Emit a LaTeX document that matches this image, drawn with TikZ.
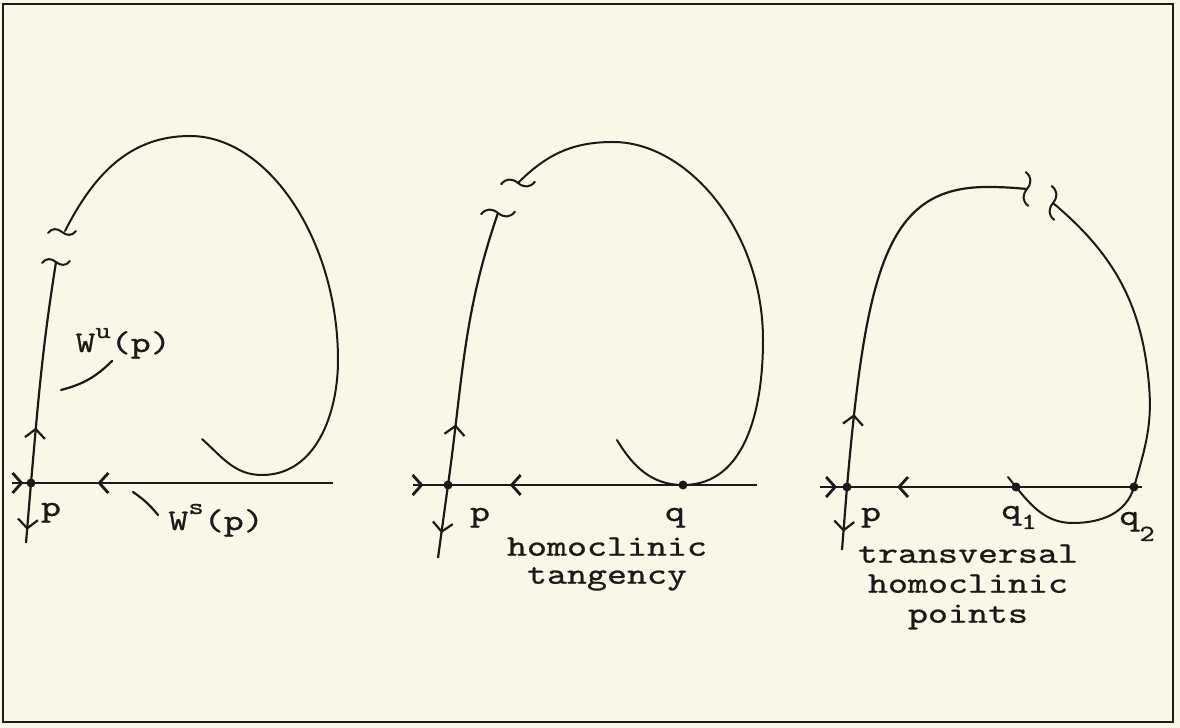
\documentclass[tikz,border=0pt]{standalone}
\definecolor{Paper}{RGB}{248,247,232}
\definecolor{Ink}{RGB}{28,26,24}
\usepackage{fontspec}
\setmonofont[FakeStretch=1.27,FakeBold=0.8]{lmmono10-regular.otf}
\usetikzlibrary{arrows.meta,decorations.markings}
\newcommand{\shiftidx}[2]{\raisebox{#1}{\fontsize{11.5}{11.5}\selectfont #2}}

\begin{document}
\begin{tikzpicture}[x=0.5pt,y=0.5pt,
  manif/.style={draw=Ink,line width=1pt,line cap=round},
  ws/.style={draw=Ink,line width=1.4pt},
  wu/.style={draw=Ink,line width=1.1pt},
  lead/.style={draw=Ink,line width=1.1pt,line cap=round},
  flow/.style={postaction={decorate},decoration={markings,
    mark=at position #1 with {\arrow{Straight Barb[length=4.5pt,width=10pt]}}}},
  dot/.style={circle,fill=Ink,inner sep=0pt,minimum size=4.5pt},
  lbl/.style={inner sep=0pt,text=Ink,font=\ttfamily\fontsize{15}{14}\selectfont},
  brk/.pic={\draw[manif] (-14,-1) .. controls (-10,4) and (-5,4) .. (0,0)
    .. controls (5,-4) and (10,-4) .. (14,1);}]
\fill[Paper] (0,0) rectangle (1180,728);
\useasboundingbox (0,0) rectangle (1180,728);
\draw[Ink,line width=1.2pt] (3,6) rectangle (1173,724);

% left panel: saddle p and its manifolds
\coordinate (wsL1) at (12,245);
\coordinate (wsR1) at (333,245);
\coordinate (wuB1) at (26,185);
\coordinate (wuT1) at (56,466);
\coordinate (lpS1) at (65,497);
\coordinate (lpE1) at (202,289);
\node[dot] (p1) at (31,245) {};
\draw[ws,flow=0.6] (wsL1) -- (p1.center);
\draw[ws,flow=0.78] (wsR1) -- (p1.center);
\draw[wu,flow=0.78] (p1.center) -- (wuB1);
\draw[wu,flow=0.25] (p1.center) to[out=85,in=-99] (wuT1);
\pic at (wuT1) {brk};
\pic at (62,496) {brk};
\draw[manif] (lpS1) to[out=63,in=180] (190,592)
  to[out=0,in=90,out distance=39pt,in distance=60pt] (338,368)
  to[out=-90,in=0] (262,253) to[out=180,in=-42] (lpE1);
\node[lbl,anchor=base] (lp1) at (51,212) {p};
\node[lbl,anchor=base west] (lwu) at (75,376) {W\shiftidx{7pt}{u}(p)};
\node[lbl,anchor=base west] (lws) at (168,198) {W\shiftidx{8pt}{s}(p)};
\coordinate (wuA) at (61,338);
\coordinate (wuZ) at (112,367);
\draw[lead] (wuA) to[bend right=15] (wuZ);
\coordinate (wsA) at (133,236);
\coordinate (wsZ) at (158,213);
\draw[lead] (wsA) to[bend left=8] (wsZ);

% middle panel: homoclinic tangency
\coordinate (wsL2) at (413,243);
\coordinate (wsR2) at (757,243);
\coordinate (wuB2) at (438,170);
\coordinate (wuT2) at (498,515);
\coordinate (lpS2) at (518,545);
\coordinate (lpE2) at (617,288);
\node[dot] (p2) at (448,243) {};
\node[dot] (q) at (683,243) {};
\draw[ws,flow=0.3] (wsL2) -- (p2.center);
\draw[ws,flow=0.8] (wsR2) -- (p2.center);
\draw[wu,flow=0.66] (p2.center) -- (wuB2);
\draw[wu,flow=0.22] (p2.center) to[out=82,in=-109] (wuT2);
\pic[scale=1.2] at (wuT2) {brk};
\pic[scale=1.2] at (lpS2) {brk};
\draw[manif] (lpS2) to[out=45,in=180] (613,586)
  to[out=0,in=90,out distance=37pt,in distance=55pt] (763,388)
  to[out=-90,in=0] (q.center) to[out=180,in=-59] (lpE2);
\node[lbl,anchor=base] (lp2) at (480,207) {p};
\node[lbl,anchor=base] (lq) at (675,207) {q};
\node[lbl,anchor=north,align=center] (ltan) at (607,191) {homoclinic\\tangency};

% right panel: transversal crossing
\coordinate (wsL3) at (820,241);
\coordinate (wsR3) at (1142,241);
\coordinate (wuB3) at (842,178);
\coordinate (wuT3) at (1027,539);
\coordinate (lpS3) at (1053,525);
\coordinate (lpE3) at (1008,251);
\node[dot] (p3) at (847,241) {};
\node[dot] (q1) at (1016,241) {};
\node[dot] (q2) at (1134,241) {};
\draw[ws,flow=0.63] (wsL3) -- (p3.center);
\draw[ws,flow=0.83] (wsR3) -- (p3.center);
\draw[wu,flow=0.71] (p3.center) -- (wuB3);
\draw[wu,flow=0.18] (p3.center) to[out=85,in=180,out distance=110pt,in distance=50pt] (987,541)
  to[out=0,in=175] (wuT3);
\pic[rotate=-90,scale=1.2] at (wuT3) {brk};
\pic[rotate=-90,scale=1.2] at (lpS3) {brk};
\draw[manif] (lpS3) to[out=-40,in=95] (1149,343) to[out=-85,in=74] (q2.center)
  to[out=254,in=0] (1073,205) to[out=180,in=-51] (q1.center) -- (lpE3);
\node[lbl,anchor=base] (lp3) at (871,207) {p};
\node[lbl,anchor=base west] (lq1) at (1001,209) {q\shiftidx{-5pt}{1}};
\node[lbl,anchor=base west] (lq2) at (1119,203) {q\shiftidx{-8pt}{2}};
\node[lbl,anchor=north,align=center,font=\ttfamily\fontsize{15}{15}\selectfont]
  (ltrans) at (968,184) {transversal\\homoclinic\\points};
\end{tikzpicture}
\end{document}
